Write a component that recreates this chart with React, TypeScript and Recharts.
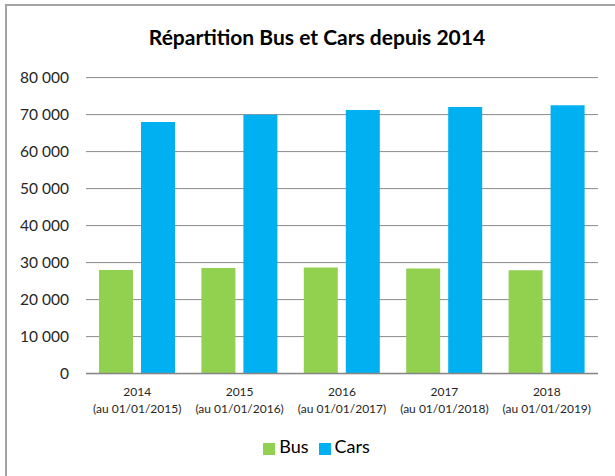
import { BarChart, Bar, XAxis, YAxis, CartesianGrid, Legend } from "recharts";

const years = ["2014", "2015", "2016", "2017", "2018"];
const dates = ["(au 01/01/2015)", "(au 01/01/2016)", "(au 01/01/2017)", "(au 01/01/2018)", "(au 01/01/2019)"];
const bus = [28030, 28570, 28680, 28390, 27930];
const cars = [68020, 69940, 71240, 72050, 72510];
const yTicks = [0, 10000, 20000, 30000, 40000, 50000, 60000, 70000, 80000];

const data = years.map((year, i) => ({ year, Bus: bus[i], Cars: cars[i] }));

const FONT = "Lato, 'Open Sans', sans-serif";

const formatThousands = (v: number) => String(v).replace(/\B(?=(\d{3})+(?!\d))/g, " ");

function YearTick(props: any) {
  const { x, y, payload } = props;
  const i = payload.index;
  return (
    <g transform={`translate(${x},${y})`}>
      <text x={0} y={14} textAnchor="middle" fontSize={12} fill="#262626" fontFamily={FONT}>
        {years[i]}
      </text>
      <text x={0} y={31} textAnchor="middle" fontSize={12} fill="#262626" fontFamily={FONT}>
        {dates[i]}
      </text>
    </g>
  );
}

export default function App() {
  return (
    <div style={{ position: "absolute", left: 0, top: 0, width: 615, height: 476, background: "#fff", fontFamily: FONT }}>
      <div
        style={{
          position: "absolute",
          left: 5,
          top: 4,
          width: 620,
          height: 480,
          borderLeft: "2px solid #a3a3a3",
          borderTop: "2px solid #a3a3a3",
        }}
      />
      <div
        style={{
          position: "absolute",
          left: 0,
          top: 24,
          width: 634,
          textAlign: "center",
          fontSize: 21,
          fontWeight: 700,
          color: "#000",
        }}
      >
        Répartition Bus et Cars depuis 2014
      </div>
      <div style={{ position: "absolute", left: 0, top: 0 }}>
        <BarChart
          width={615}
          height={476}
          data={data}
          margin={{ top: 77.6, right: 17, left: 6, bottom: 20.4 }}
          barCategoryGap={13}
          barGap={8}
        >
          <CartesianGrid stroke="#8a8a8a" vertical={false} />
          <XAxis
            dataKey="year"
            tick={<YearTick />}
            tickLine={false}
            axisLine={{ stroke: "#868686", strokeWidth: 1.5 }}
            interval={0}
            height={60}
          />
          <YAxis
            domain={[0, 80000]}
            ticks={yTicks}
            tickFormatter={formatThousands}
            tick={{ fontSize: 15.5, fill: "#262626", fontFamily: FONT }}
            axisLine={false}
            tickLine={false}
            tickSize={6}
            tickMargin={11}
            width={80}
          />
          <Legend
            iconType="square"
            iconSize={12}
            wrapperStyle={{ left: 14, width: 615, top: 435, fontFamily: FONT }}
            formatter={(value: string) => (
              <span style={{ color: "#000", fontSize: 18 }}>{value}</span>
            )}
          />
          <Bar dataKey="Bus" fill="#92D050" isAnimationActive={false} />
          <Bar dataKey="Cars" fill="#00B0F0" isAnimationActive={false} />
        </BarChart>
      </div>
    </div>
  );
}
